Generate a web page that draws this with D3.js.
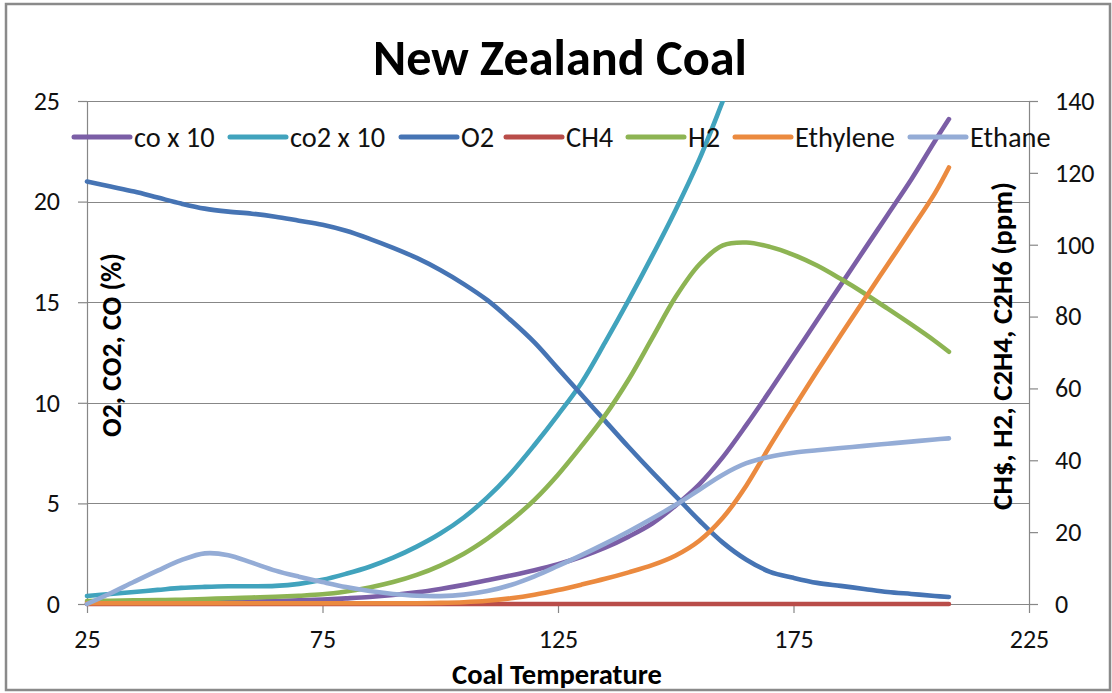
<!DOCTYPE html>
<html><head><meta charset="utf-8">
<script src="https://cdn.jsdelivr.net/npm/d3@7"></script>
<style>
body{margin:0;background:#fff;}
svg{display:block;font-family:Carlito, Lato, sans-serif;}
</style></head><body>
<svg id="chart" width="1112" height="693"></svg>
<script>
// ---------- data ----------
const temps = [25,30,35,40,45,50,55,60,65,70,75,80,85,90,95,100,105,110,115,120,125,130,135,140,145,150,155,160,165,170,175,180,185,190,195,200,205,208];
const coX10 = [0.05,0.05,0.05,0.06,0.07,0.08,0.10,0.12,0.15,0.18,0.22,0.28,0.35,0.45,0.58,0.75,0.95,1.18,1.42,1.68,1.98,2.35,2.80,3.35,4.00,4.90,5.95,7.30,8.90,10.6,12.35,14.1,15.85,17.6,19.35,21.1,23.0,24.1];
const co2X10 = [0.4,0.5,0.6,0.7,0.8,0.85,0.88,0.88,0.9,1.0,1.2,1.5,1.85,2.3,2.85,3.5,4.3,5.3,6.5,7.9,9.4,11.0,13.0,15.1,17.3,19.6,22.1,25.0,28.0];
const o2 = [21.0,20.75,20.5,20.2,19.9,19.65,19.5,19.4,19.25,19.05,18.85,18.55,18.15,17.7,17.2,16.6,15.9,15.1,14.1,13.0,11.7,10.4,9.1,7.8,6.55,5.35,4.15,3.05,2.2,1.6,1.3,1.05,0.9,0.75,0.6,0.5,0.4,0.35];
const ch4 = [0,0,0,0,0,0,0,0,0,0,0,0,0,0,0,0,0,0,0,0,0,0,0,0,0,0,0,0,0,0,0,0,0,0,0,0,0,0];
const h2 = [0.8,0.9,1.0,1.1,1.2,1.4,1.6,1.8,2.0,2.3,2.7,3.5,4.6,6.1,8.1,10.7,14.0,18.2,23.2,29.0,36.0,44.0,52.5,62.5,74.0,85.5,94.5,99.8,100.6,99.4,97.2,94.2,90.5,86.5,82.2,77.8,73.2,70.2];
const ethylene = [0.2,0.2,0.2,0.2,0.2,0.2,0.2,0.2,0.2,0.2,0.2,0.2,0.2,0.2,0.2,0.3,0.5,0.9,1.6,2.6,3.9,5.4,7.0,8.8,10.8,13.5,17.6,24.0,33.0,44.0,54.5,64.8,74.8,84.7,94.5,104.3,114.3,121.5];
const ethane = [0,3.0,6.2,9.3,12.2,14.1,13.6,11.5,9.3,7.6,6.1,4.7,3.6,2.8,2.3,2.2,2.6,3.6,5.3,7.7,10.6,13.6,16.8,20.2,23.8,27.6,31.8,36.0,39.2,41.0,42.1,42.8,43.4,44.0,44.6,45.2,45.8,46.1];

const seriesNames = ["co x 10","co2 x 10","O2","CH4","H2","Ethylene","Ethane"];
const seriesValues = [coX10, co2X10, o2, ch4, h2, ethylene, ethane];
const seriesAxis = ["left","left","left","right","right","right","right"];
const seriesColors = ["#7b5ea6","#41a3bd","#4674b4","#b94d49","#8db453","#eb8a3f","#94acd6"];

const xTicks = [25,75,125,175,225];
const leftTicks = [0,5,10,15,20,25];
const rightTicks = [0,20,40,60,80,100,120,140];

const titleText = "New Zealand Coal";
const xTitleText = "Coal Temperature";
const yLeftTitleText = "O2, CO2, CO (%)";
const yRightTitleText = "CH$, H2, C2H4, C2H6 (ppm)";

// ---------- layout ----------
const plot = {left:87, right:1029, top:101, bottom:604};
const gridColor = "#878787";
const textColor = "#111";
const svg = d3.select("#chart");

svg.append("rect").attr("x",6).attr("y",4).attr("width",1104).attr("height",686)
  .attr("fill","#fff").attr("stroke","#8a8a8a").attr("stroke-width",2.5);

const x = d3.scaleLinear().domain([25,225]).range([plot.left, plot.right]);
const yL = d3.scaleLinear().domain([0,25]).range([plot.bottom, plot.top]);
const yR = d3.scaleLinear().domain([0,140]).range([plot.bottom, plot.top]);

// gridlines
svg.append("g").selectAll("line").data(leftTicks).join("line")
  .attr("x1",plot.left).attr("x2",plot.right)
  .attr("y1",d=>Math.round(yL(d))+0.5).attr("y2",d=>Math.round(yL(d))+0.5)
  .attr("stroke",gridColor).attr("stroke-width",1);

function styleAxis(g){
  g.selectAll(".domain").attr("stroke",gridColor).attr("stroke-width",1.2);
  g.selectAll(".tick line").attr("stroke",gridColor).attr("stroke-width",1.2);
  g.selectAll(".tick text").attr("fill",textColor).attr("font-size",26)
    .attr("font-family","Carlito, Lato, sans-serif");
}
svg.append("g").attr("transform",`translate(${plot.left},0)`)
  .call(d3.axisLeft(yL).tickValues(leftTicks).tickSize(9).tickSizeOuter(0).tickPadding(18).tickFormat(d3.format("d")))
  .call(styleAxis);
svg.append("g").attr("transform",`translate(${plot.right},0)`)
  .call(d3.axisRight(yR).tickValues(rightTicks).tickSize(9).tickSizeOuter(0).tickPadding(17).tickFormat(d3.format("d")))
  .call(styleAxis);
svg.append("g").attr("transform",`translate(0,${plot.bottom})`)
  .call(d3.axisBottom(x).tickValues(xTicks).tickSize(9).tickSizeOuter(0).tickPadding(17).tickFormat(d3.format("d")))
  .call(styleAxis);

// clip (only top is cut)
svg.append("defs").append("clipPath").attr("id","clip")
  .append("rect").attr("x",0).attr("y",plot.top).attr("width",1112).attr("height",693-plot.top);

const gLines = svg.append("g").attr("clip-path","url(#clip)");
seriesNames.forEach((name,i)=>{
  const sc = seriesAxis[i]==="left" ? yL : yR;
  const pts = seriesValues[i].map((v,j)=>[temps[j],v]);
  const line = d3.line().x(d=>x(d[0])).y(d=>sc(d[1])).curve(d3.curveCatmullRom.alpha(0.5));
  gLines.append("path").attr("d",line(pts)).attr("fill","none")
    .attr("stroke",seriesColors[i]).attr("stroke-width",4.6)
    .attr("stroke-linecap","round").attr("stroke-linejoin","round");
});

function fit(sel,target){
  const w = sel.node().getComputedTextLength();
  const fs = parseFloat(sel.attr("font-size"));
  if (w>0) sel.attr("font-size", fs*target/w);
  return sel;
}

// titles
const t = svg.append("text").attr("x",560).attr("y",75).attr("text-anchor","middle")
  .attr("font-weight",700).attr("font-size",46).attr("fill","#000").text(titleText);
fit(t,374);
const xt = svg.append("text").attr("x",557).attr("y",684).attr("text-anchor","middle")
  .attr("font-weight",700).attr("font-size",24).attr("fill","#000").text(xTitleText);
fit(xt,210);
const ylt = svg.append("text").attr("transform","translate(121,345) rotate(-90)").attr("text-anchor","middle")
  .attr("font-weight",700).attr("font-size",24).attr("fill","#000").text(yLeftTitleText);
fit(ylt,184);
const yrt = svg.append("text").attr("transform","translate(1012,346) rotate(-90)").attr("text-anchor","middle")
  .attr("font-weight",700).attr("font-size",24).attr("fill","#000").text(yRightTitleText);
fit(yrt,328);

// legend
const legendSwatchX = [74,230,401,506,628,735,910];
const legendY = 137;
const lg = svg.append("g");
const probe = lg.append("text").attr("font-size",26).text("Ethylene");
fit(probe,100);
const legendFont = parseFloat(probe.attr("font-size"));
probe.remove();
seriesNames.forEach((name,i)=>{
  const sx = legendSwatchX[i];
  lg.append("line").attr("x1",sx).attr("x2",sx+56).attr("y1",legendY).attr("y2",legendY)
    .attr("stroke",seriesColors[i]).attr("stroke-width",5).attr("stroke-linecap","round");
  lg.append("text").attr("x",sx+60).attr("y",legendY).attr("dy","0.35em")
    .attr("font-size",legendFont).attr("fill",textColor).text(name);
});
</script>
</body></html>
